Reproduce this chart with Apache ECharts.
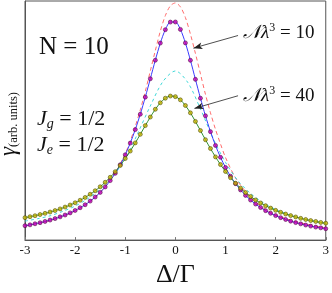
<!DOCTYPE html>
<html><head><meta charset="utf-8">
<script src="https://cdn.jsdelivr.net/npm/echarts@6/dist/echarts.min.js"></script>
<style>html,body{margin:0;padding:0;background:#fff}#c{width:332px;height:293px}</style>
</head><body><div id="c"></div>
<script>
// detuning grid for the dotted series
const detuning = [-3,-2.9,-2.8,-2.7,-2.6,-2.5,-2.4,-2.3,-2.2,-2.1,-2,-1.9,-1.8,-1.7,-1.6,-1.5,-1.4,-1.3,-1.2,-1.1,-1,-0.9,-0.8,-0.7,-0.6,-0.5,-0.4,-0.3,-0.2,-0.1,0,0.1,0.2,0.3,0.4,0.5,0.6,0.7,0.8,0.9,1,1.1,1.2,1.3,1.4,1.5,1.6,1.7,1.8,1.9,2,2.1,2.2,2.3,2.4,2.5,2.6,2.7,2.8,2.9,3];
// N lambda^3 = 10 (magenta dots, blue line)
const gamma10 = [14.8,15.7,16.8,17.9,19.2,20.6,22.1,23.9,25.8,28.0,30.5,33.3,36.4,40.1,44.3,49.1,54.7,61.2,68.7,77.5,87.8,99.8,113.7,129.5,147.1,166.0,185.1,202.7,216.5,224.3,224.4,216.8,202.9,185.0,165.4,146.0,127.9,111.6,97.4,85.2,74.7,65.7,58.1,51.6,46.0,41.2,37.1,33.5,30.3,27.6,25.2,23.1,21.2,19.5,18.0,16.7,15.5,14.4,13.4,12.6,11.7];
// N lambda^3 = 40 (yellow dots, green line)
const gamma40 = [23.1,24.1,25.1,26.3,27.5,28.9,30.4,32.1,34.0,36.1,38.4,41.0,43.9,47.2,50.8,54.9,59.5,64.6,70.4,76.8,83.9,91.6,100.0,108.8,117.8,126.6,134.6,141.3,146.0,148.2,147.6,144.3,138.5,130.9,122.1,112.7,103.3,94.2,85.6,77.7,70.6,64.2,58.5,53.4,48.9,44.9,41.3,38.2,35.4,32.9,30.6,28.6,26.8,25.2,23.8,22.4,21.2,20.1,19.2,18.2,17.4];
// red dashed curve
const redX = [-3,-2.6,-2.3,-2,-1.8,-1.6,-1.4,-1.2,-1,-0.9,-0.8,-0.7,-0.6,-0.5,-0.4,-0.3,-0.2,-0.1,0,0.1,0.2,0.3,0.4,0.5,0.6,0.7,0.8,0.9,1,1.2,1.4,1.6,1.8,2,2.3,2.6,3];
const redY = [14.5,18.8,23.5,30,36,44,55,69,89,102,117,134,153,174,195,215,231,241,244,240,229,212,192,171,150,131,114,99,85,64,50,39,31.5,26,20.5,16.5,12.5];
// cyan dashed curve
const cyanX = [-3,-2.75,-2.5,-2.25,-2,-1.75,-1.5,-1.25,-1,-0.75,-0.5,-0.25,0,0.25,0.5,0.75,1,1.25,1.5,1.75,2,2.25,2.5,2.75,3];
const cyanY = [19.5,22,25,29.5,35,42.5,52.5,66,83,110,138,163,174,162,135,105,80,61,48,38.5,31.5,26.5,22.5,19.5,17];
const xTicks = [-3,-2,-1,0,1,2,3];

const zip = (a,b)=>a.map((v,i)=>[v,b[i]]);
const serif = '"Liberation Serif","DejaVu Serif",serif';
const chart = echarts.init(document.getElementById('c'), null, {renderer:'canvas'});
const jRich = {j:{fontFamily:serif,fontStyle:'italic',fontSize:22,lineHeight:24},
  s:{fontFamily:serif,fontStyle:'italic',fontSize:14,lineHeight:11,verticalAlign:'bottom'},
  t:{fontFamily:serif,fontSize:22,lineHeight:24}};
const nRich = {n:{fontFamily:serif,fontStyle:'italic',fontSize:19,lineHeight:22},
  l:{fontFamily:serif,fontStyle:'italic',fontSize:19,lineHeight:22},
  p:{fontFamily:serif,fontSize:12,lineHeight:11,verticalAlign:'top'},
  t:{fontFamily:serif,fontSize:19,lineHeight:22}};
chart.setOption({
  animation:false,
  grid:{left:25,right:4,top:1,bottom:46,show:true,borderColor:'#555',borderWidth:1},
  xAxis:{type:'value',min:-3,max:3,interval:1,
    axisLine:{show:true,onZero:false,lineStyle:{color:'#555'}},
    axisTick:{show:true,inside:true,length:3,lineStyle:{color:'#777'}},
    splitLine:{show:false},
    axisLabel:{fontFamily:serif,fontSize:13,color:'#111',margin:4,
      formatter:v=>xTicks.includes(v)?String(v):''},
    name:'Δ/Γ',nameLocation:'middle',nameGap:15,
    nameTextStyle:{fontFamily:serif,fontSize:26,color:'#111'}},
  yAxis:{type:'value',min:0,max:246,
    axisLine:{show:true,onZero:false,lineStyle:{color:'#555'}},axisTick:{show:false},
    axisLabel:{show:false},splitLine:{show:false}},
  series:[
    {type:'line',data:zip(redX,redY),smooth:0.3,symbol:'none',z:1,
      lineStyle:{color:'#ff6b6b',width:1,type:[4,3]}},
    {type:'line',data:zip(cyanX,cyanY),smooth:0.3,symbol:'none',z:1,
      lineStyle:{color:'#40d8d8',width:1,type:[3,3]}},
    {type:'line',data:zip(detuning,gamma10),smooth:0.3,symbol:'none',z:2,
      lineStyle:{color:'#3a3aff',width:1},
      markLine:{silent:true,symbol:['none','arrow'],symbolSize:[5,9],
        lineStyle:{color:'#222',width:0.8,type:'solid'},label:{show:false},
        data:[[{coord:[1.25,210.5]},{coord:[0.36,197.5]}],
              [{coord:[1.25,148.5]},{coord:[0.38,135.5]}]]}},
    {type:'line',data:zip(detuning,gamma40),smooth:0.3,symbol:'none',z:2,
      lineStyle:{color:'#2f8f2f',width:1}},
    {type:'scatter',data:zip(detuning,gamma10),symbol:'circle',symbolSize:4,z:3,
      itemStyle:{color:'#c400b4',borderColor:'#4a0040',borderWidth:0.7}},
    {type:'scatter',data:zip(detuning,gamma40),symbol:'circle',symbolSize:4,z:3,
      itemStyle:{color:'#c4b400',borderColor:'#4a4a00',borderWidth:0.7}}
  ],
  graphic:[
    {type:'text',left:39,top:35,style:{text:'N = 10',font:'25px '+serif,fill:'#111'}},
    {type:'text',left:37,top:108,style:{text:'{j|J}{s|g}{t| = 1/2}',fill:'#111',rich:jRich}},
    {type:'text',left:37,top:134,style:{text:'{j|J}{s|e}{t| = 1/2}',fill:'#111',rich:jRich}},
    {type:'text',left:243,top:22,style:{text:'{n|𝒩}{l|λ}{p|3}{t| = 10}',fill:'#111',rich:nRich}},
    {type:'text',left:243,top:85,style:{text:'{n|𝒩}{l|λ}{p|3}{t| = 40}',fill:'#111',rich:nRich}},
    {type:'text',x:9,y:124,rotation:Math.PI/2,style:{text:'{g|γ}{u|(arb. units)}',fill:'#111',
      align:'center',verticalAlign:'middle',
      rich:{g:{fontFamily:serif,fontStyle:'italic',fontSize:23,lineHeight:22},
            u:{fontFamily:serif,fontSize:12.5,lineHeight:9,verticalAlign:'bottom'}}}}
  ]
});
</script></body></html>
